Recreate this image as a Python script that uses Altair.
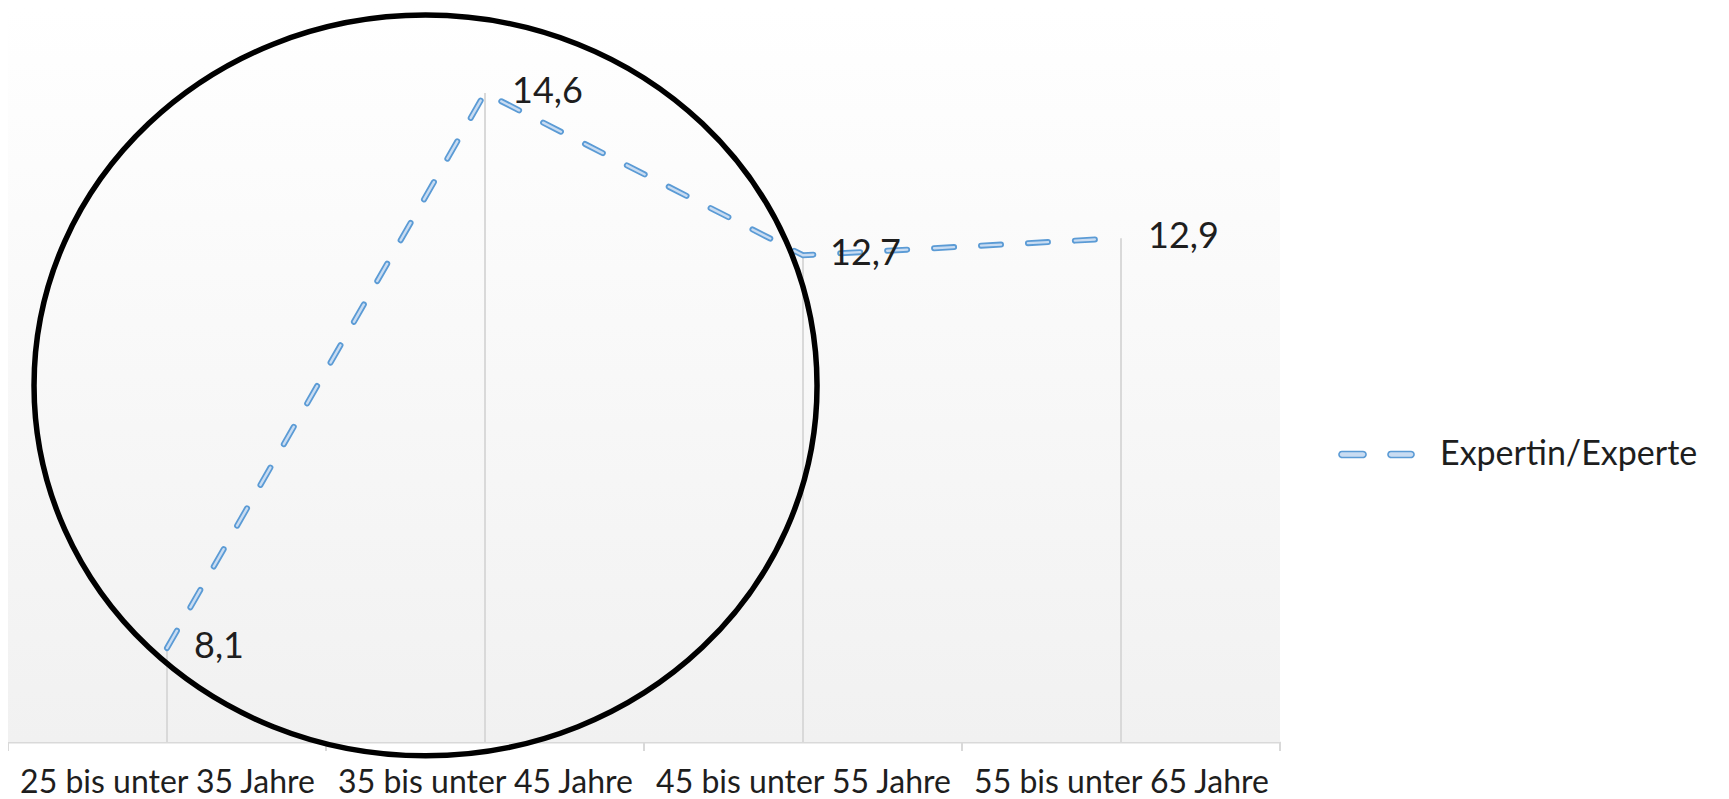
import json
import altair as alt
import pandas as pd

# ---- data ----
categories = ["25 bis unter 35 Jahre", "35 bis unter 45 Jahre",
              "45 bis unter 55 Jahre", "55 bis unter 65 Jahre"]
values = [8.1, 14.6, 12.7, 12.9]
series_name = ["Expertin/Experte"]
y_min, y_max = 7, 15.595
# highlight ellipse (annotation), centre in data units
circle_center_x = [0.813]
circle_center_y = [11.175]

positions = list(range(len(categories)))
boundaries = [p - 0.5 for p in positions] + [positions[-1] + 0.5]

df = pd.DataFrame({"pos": positions, "cat": categories, "value": values,
                   "series": series_name * len(categories)})
df_bound = pd.DataFrame({"b": boundaries})
df_circle = pd.DataFrame({"cx": circle_center_x, "cy": circle_center_y})

W, H = 1272, 734
FONT = "Lato"
TXT = "#1e1e1e"
BLUE = "#5b9bd5"
LIGHT = "#c9dcf2"

xscale = alt.Scale(domain=[-0.5, len(categories) - 0.5], nice=False, zero=False)
yscale = alt.Scale(domain=[y_min, y_max], nice=False, zero=False)

label_expr = json.dumps(categories) + "[datum.value]"

x_axis = alt.Axis(values=positions, labelExpr=label_expr, title=None,
                  ticks=False, grid=False, domainColor="#d9d9d9", domainWidth=2,
                  labelFont=FONT, labelFontSize=32, labelColor=TXT,
                  labelPadding=25, labelOverlap=False, labelFlush=False,
                  labelBound=False, labelLimit=1000)


def X(field):
    return alt.X(field, scale=xscale, axis=x_axis)


def Y(field):
    return alt.Y(field, scale=yscale, axis=None)


bg = alt.Chart(df.head(1)).mark_rect(
    color=alt.LinearGradient(
        gradient="linear",
        stops=[alt.GradientStop(color="#ffffff", offset=0),
               alt.GradientStop(color="#f1f1f1", offset=1)],
        x1=0, x2=0, y1=0, y2=1)
).encode(x=alt.value(0), x2=alt.value("width"), y=alt.value(0), y2=alt.value("height"))

base = alt.Chart(df)

drops = base.mark_rule(color="#d9d9d9", strokeWidth=2).encode(
    x=X("pos:Q"), y=Y("value:Q"), y2=alt.datum(y_min),
)

ticks = alt.Chart(df_bound).mark_rule(color="#d9d9d9", strokeWidth=2).encode(
    x=X("b:Q"), y=alt.value(H), y2=alt.value(H + 9),
)

cap_path = ("M -0.92 -0.08 L -0.36 -0.08 A 0.08 0.08 0 0 1 -0.36 0.08 "
            "L -0.92 0.08 A 0.08 0.08 0 0 1 -0.92 -0.08 Z "
            "M 0.387 -0.08 L 0.92 -0.08 A 0.08 0.08 0 0 1 0.92 0.08 "
            "L 0.387 0.08 A 0.08 0.08 0 0 1 0.387 -0.08 Z")

legend = alt.Legend(
    title=None, orient="none", legendX=1330, legendY=408,
    symbolType=cap_path, symbolSize=5625, labelFont=FONT, labelFontSize=34,
    labelColor=TXT, labelOffset=25, labelLimit=600,
    symbolFillColor=LIGHT, symbolStrokeColor=BLUE, symbolStrokeWidth=1.6,
    symbolDash=[1, 0], symbolOpacity=1,
)

line_outer = base.mark_line(strokeWidth=6, strokeDash=[20, 27], strokeCap="round").encode(
    x=X("pos:Q"), y=Y("value:Q"),
    color=alt.Color("series:N", scale=alt.Scale(range=[BLUE]), legend=legend),
)

line_inner = base.mark_line(strokeWidth=2.4, strokeDash=[20, 27], strokeCap="round",
                            color=LIGHT).encode(
    x=X("pos:Q"), y=Y("value:Q"),
)

labels = base.transform_calculate(
    lbl="replace(format(datum.value, '.1f'), '.', ',')"
).mark_text(align="left", baseline="middle", dx=27, dy=-1, font=FONT, fontSize=36,
            color=TXT).encode(
    x=X("pos:Q"), y=Y("value:Q"), text="lbl:N",
)

ellipse_path = "M -1 0 A 1 0.946 0 1 1 1 0 A 1 0.946 0 1 1 -1 0 Z"
circle = alt.Chart(df_circle).mark_point(
    shape=ellipse_path, size=783 * 783, filled=False, stroke="black",
    strokeWidth=5.5, opacity=1,
).encode(
    x=X("cx:Q"), y=Y("cy:Q"),
)

chart = alt.layer(bg, drops, ticks, line_outer, line_inner, labels, circle).properties(
    width=W, height=H,
    autosize=alt.AutoSizeParams(type="none"),
    padding={"left": 0, "top": 0, "right": 441, "bottom": 58},
    background="white",
).configure_view(stroke=None)

chart.save("out.html", embed_options={"renderer": "svg", "actions": False})
